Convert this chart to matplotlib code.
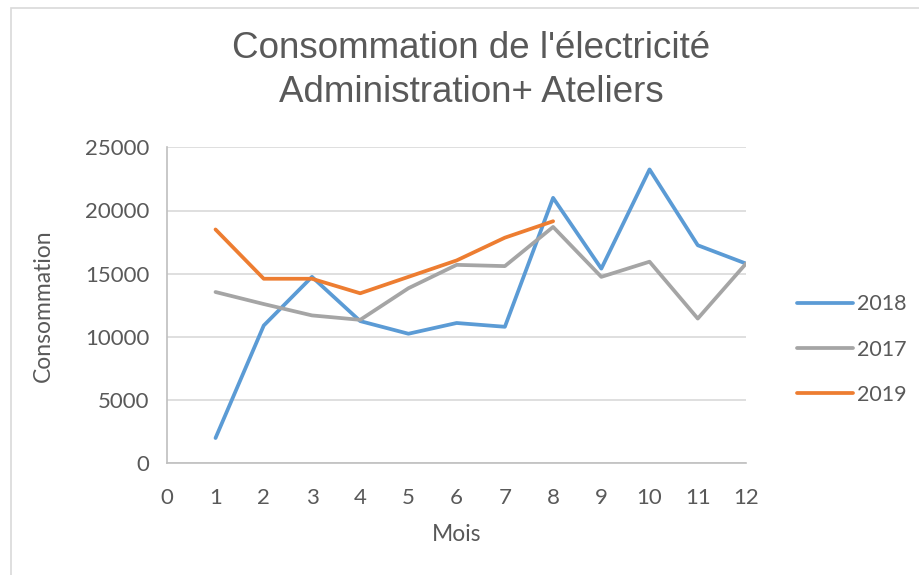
import numpy as np
import matplotlib.pyplot as plt
from matplotlib.patches import Rectangle

# Monthly consumption values
mois = [1, 2, 3, 4, 5, 6, 7, 8, 9, 10, 11, 12]
conso_2018 = [2000, 10900, 14750, 11250, 10250, 11100, 10800, 21000, 15400, 23250, 17250, 15800]
conso_2017 = [13550, 12600, 11700, 11350, 13850, 15700, 15600, 18700, 14750, 15950, 11450, 15800]
mois_2019 = [1, 2, 3, 4, 5, 6, 7, 8]
conso_2019 = [18500, 14600, 14600, 13450, 14750, 16050, 17850, 19150]

blue = '#5B9BD5'
grey = '#A5A5A5'
orange = '#ED7D31'
txt = '#595959'

plt.rcParams['font.family'] = ['Lato', 'DejaVu Sans']

fig = plt.figure(figsize=(9.19, 5.75), dpi=100)
ax = fig.add_axes([167.3/919, 1-463.3/575, (746-167.3)/919, (463.3-147.3)/575])

# chart area border (Excel style)
fig.patches.append(Rectangle((11/919, -0.1), 1.2, 1-8/575+0.1, transform=fig.transFigure,
                             fill=False, edgecolor='#d9d9d9', linewidth=1.2))

ax.plot(mois, conso_2018, color=blue, lw=2.7, label='2018', solid_capstyle='round', zorder=3)
ax.plot(mois, conso_2017, color=grey, lw=2.7, label='2017', solid_capstyle='round', zorder=3)
ax.plot(mois_2019, conso_2019, color=orange, lw=2.7, label='2019', solid_capstyle='round', zorder=3)

ax.set_xlim(0, 12)
ax.set_ylim(0, 25000)
ax.set_xticks(range(0, 13))
ax.set_yticks(range(0, 25001, 5000))
ax.grid(axis='y', color='#d9d9d9', lw=1.2)
ax.set_axisbelow(True)
for s in ['top', 'right']:
    ax.spines[s].set_visible(False)
for s in ['left', 'bottom']:
    ax.spines[s].set_color('#bfbfbf')
    ax.spines[s].set_linewidth(1.2)
ax.tick_params(length=0, labelsize=16, colors=txt)
ax.tick_params(axis='x', pad=18)
ax.tick_params(axis='y', pad=13)

ax.set_xlabel('Mois', fontsize=16.5, color=txt, labelpad=11)
ax.set_ylabel('Consommation', fontsize=16.5, color=txt, labelpad=22)

ttl_font = ['Liberation Sans Narrow', 'Liberation Sans']
fig.text(471/919, 1-48/575, "Consommation de l'électricité", ha='center', va='center',
         fontsize=26.5, color=txt, family=ttl_font)
fig.text(471/919, 1-92/575, "Administration+ Ateliers", ha='center', va='center',
         fontsize=26.5, color=txt, family=ttl_font)

leg = ax.legend(loc='center left', bbox_to_anchor=(1.055, 0.36), frameon=False,
                fontsize=15.5, labelcolor=txt, handlelength=2.6, handletextpad=0.2,
                labelspacing=1.17)

fig.savefig('out.png', dpi=100)
